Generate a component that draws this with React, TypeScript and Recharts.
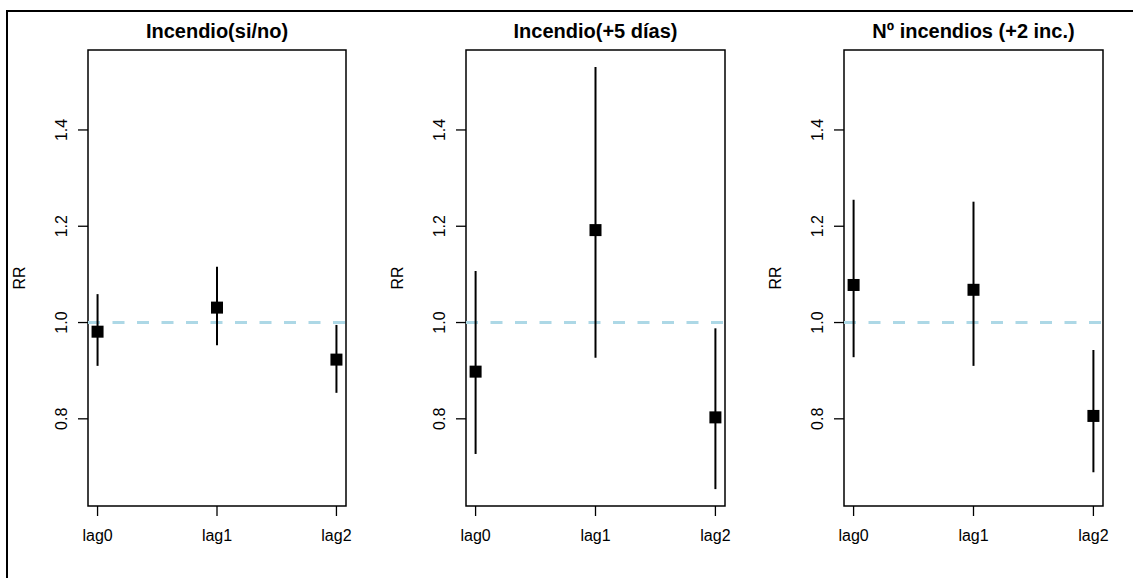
import React from 'react';
import {
  ComposedChart,
  Scatter,
  ErrorBar,
  XAxis,
  YAxis,
  ReferenceLine,
  ReferenceArea,
} from 'recharts';

const lags = ['lag0', 'lag1', 'lag2'];
const titles = ['Incendio(si/no)', 'Incendio(+5 días)', 'Nº incendios (+2 inc.)'];

// point estimates and 95% intervals
const est1 = [0.981, 1.031, 0.923];
const lo1 = [0.910, 0.953, 0.854];
const hi1 = [1.059, 1.116, 0.995];

const est2 = [0.898, 1.192, 0.803];
const lo2 = [0.727, 0.927, 0.654];
const hi2 = [1.107, 1.531, 0.988];

const est3 = [1.078, 1.068, 0.806];
const lo3 = [0.928, 0.910, 0.689];
const hi3 = [1.255, 1.251, 0.943];

const yTicks = [0.8, 1.0, 1.2, 1.4];
const xTicks = [1, 2, 3];

const FONT = '"Liberation Sans", Arial, sans-serif';
const H = 578;
const TOP = 50;
const BOTTOM = 506;
const AXIS_W = 60;
const AXIS_H = 40;

const build = (est: number[], lo: number[], hi: number[]) =>
  est.map((e, i) => ({ x: i + 1, lag: lags[i], est: e, err: [e - lo[i], hi[i] - e] }));

const series = [build(est1, lo1, hi1), build(est2, lo2, hi2), build(est3, lo3, hi3)];

// R-style 4% padding on both axes, shared y limits across panels
const allLo = Math.min(...lo1, ...lo2, ...lo3);
const allHi = Math.max(...hi1, ...hi2, ...hi3);
const yPad = (allHi - allLo) * 0.04;
const yDomain: [number, number] = [allLo - yPad, allHi + yPad];
const xDomain: [number, number] = [1 - 0.08, 3 + 0.08];

// page geometry of each panel
const panels = [
  { left: 0, width: 380, boxLeft: 88, boxRight: 346 },
  { left: 380, width: 378, boxLeft: 466, boxRight: 725 },
  { left: 758, width: 375, boxLeft: 844, boxRight: 1103 },
];

const Square = (p: any) => <rect x={p.cx - 6} y={p.cy - 6} width={12} height={12} fill="#000" />;

const Panel: React.FC<{ idx: number }> = ({ idx }) => {
  const pn = panels[idx];
  const offLeft = pn.boxLeft - pn.left;
  const margin = {
    top: TOP,
    bottom: H - BOTTOM - AXIS_H,
    left: offLeft - AXIS_W,
    right: pn.left + pn.width - pn.boxRight,
  };

  const YTick = (p: any) => {
    const x = offLeft - 21;
    return (
      <text
        x={x}
        y={p.y}
        textAnchor="middle"
        transform={`rotate(-90, ${x}, ${p.y})`}
        fontSize={16}
        fontFamily={FONT}
        fill="#000"
      >
        {p.payload.value.toFixed(1)}
      </text>
    );
  };

  const XTick = (p: any) => (
    <text x={p.x} y={541} textAnchor="middle" fontSize={16} fontFamily={FONT} fill="#000">
      {lags[p.payload.value - 1]}
    </text>
  );

  return (
    <div style={{ position: 'absolute', left: pn.left, top: 0 }}>
      <ComposedChart width={pn.width} height={H} margin={margin} data={series[idx]}>
        <XAxis
          dataKey="x"
          type="number"
          domain={xDomain}
          ticks={xTicks}
          height={AXIS_H}
          axisLine={false}
          tickSize={10}
          tickLine={{ stroke: '#000', strokeWidth: 1.3 }}
          tick={XTick}
          allowDataOverflow
        />
        <YAxis
          dataKey="est"
          type="number"
          domain={yDomain}
          ticks={yTicks}
          width={AXIS_W}
          axisLine={false}
          tickSize={10}
          tickLine={{ stroke: '#000', strokeWidth: 1.3 }}
          tick={YTick}
          allowDataOverflow
        />
        <ReferenceArea
          x1={xDomain[0]}
          x2={xDomain[1]}
          y1={yDomain[0]}
          y2={yDomain[1]}
          fill="none"
          stroke="#000"
          strokeWidth={1.5}
          ifOverflow="visible"
        />
        <ReferenceLine y={1} stroke="#ADD8E6" strokeWidth={3} strokeDasharray="12 12.5" />
        <Scatter dataKey="est" shape={Square} isAnimationActive={false}>
          <ErrorBar dataKey="err" direction="y" width={0} stroke="#000" strokeWidth={2} isAnimationActive={false} />
        </Scatter>
      </ComposedChart>
    </div>
  );
};

export default function App() {
  return (
    <div
      style={{
        position: 'absolute',
        left: 0,
        top: 0,
        width: 1133,
        height: H,
        overflow: 'hidden',
        background: '#fff',
        fontFamily: FONT,
      }}
    >
      <div
        style={{
          position: 'absolute',
          left: 6,
          top: 10,
          width: 1200,
          height: 700,
          border: '2px solid #000',
        }}
      />
      {panels.map((_, i) => (
        <Panel key={i} idx={i} />
      ))}
      <svg width={1133} height={H} style={{ position: 'absolute', left: 0, top: 0, pointerEvents: 'none' }}>
        {panels.map((pn, i) => {
          const cx = (pn.boxLeft + pn.boxRight) / 2;
          const rx = pn.boxLeft - 63;
          const cy = (TOP + BOTTOM) / 2;
          return (
            <g key={i}>
              <text x={cx} y={38} textAnchor="middle" fontSize={20} fontWeight="bold" fontFamily={FONT} fill="#000">
                {titles[i]}
              </text>
              <text
                x={rx}
                y={cy}
                textAnchor="middle"
                transform={`rotate(-90, ${rx}, ${cy})`}
                fontSize={16}
                fontFamily={FONT}
                fill="#000"
              >
                RR
              </text>
            </g>
          );
        })}
      </svg>
    </div>
  );
}
